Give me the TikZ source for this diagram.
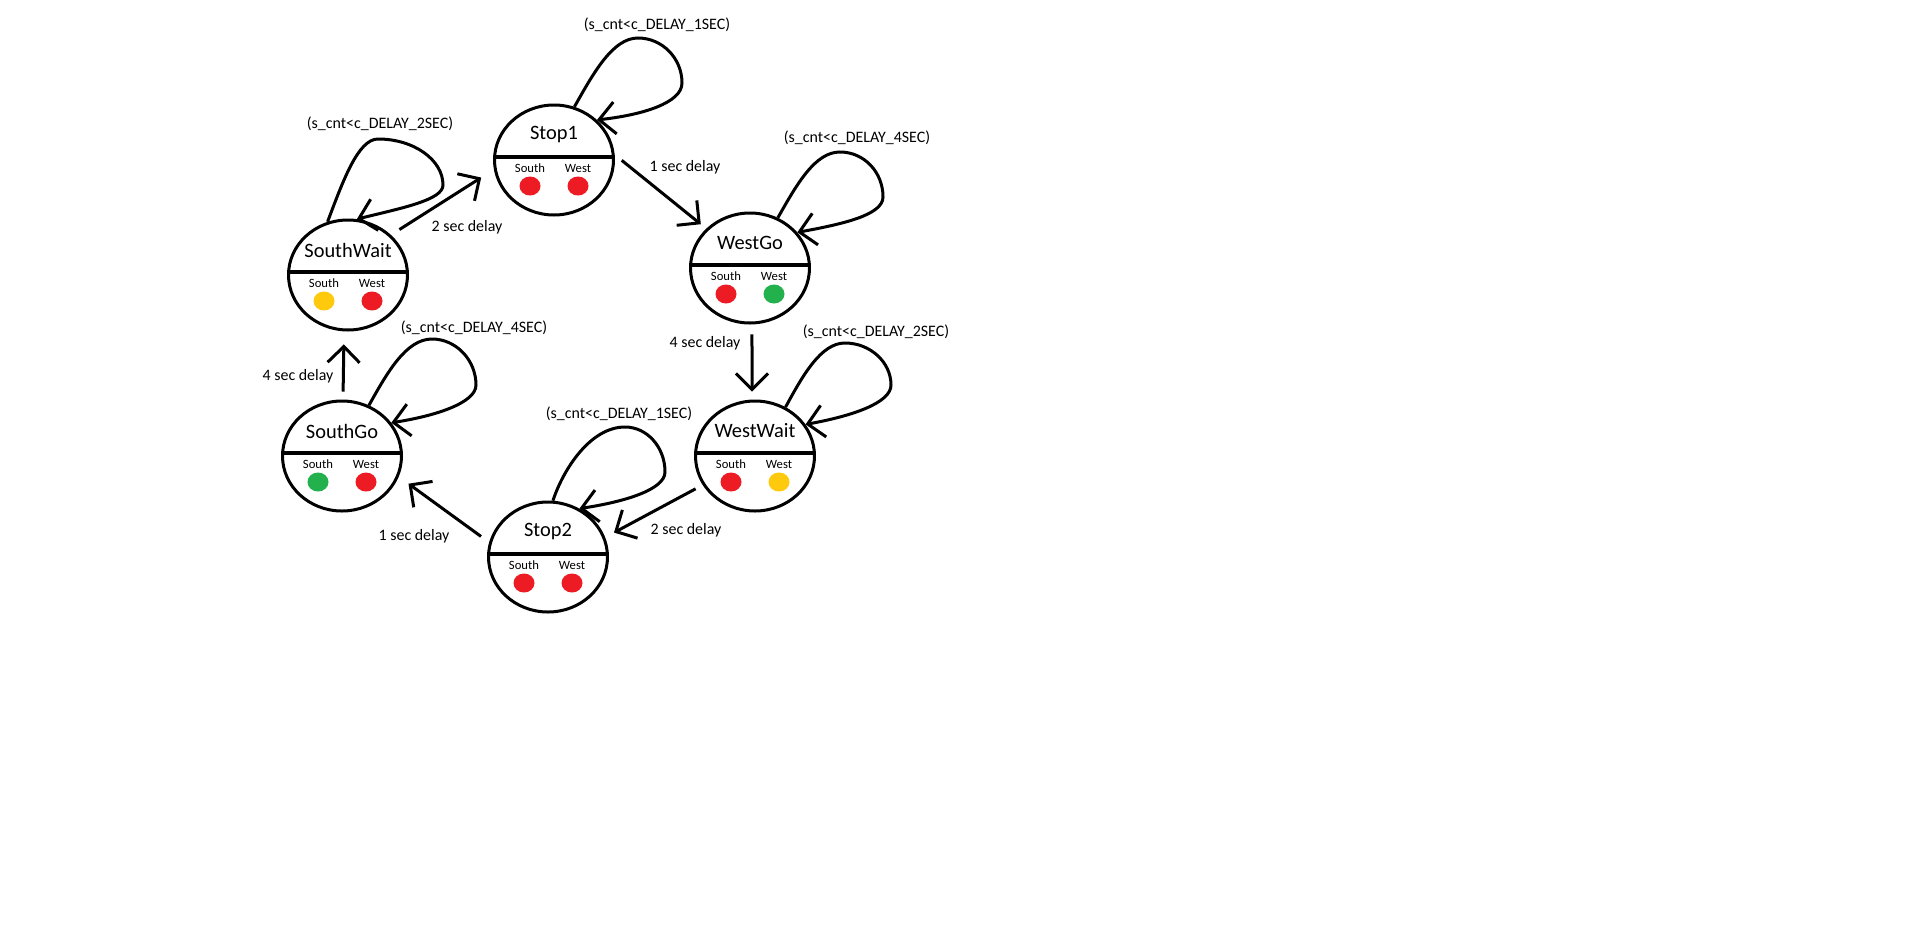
\documentclass[tikz,border=0pt]{standalone}
\usepackage{fontspec}
\setmainfont{Carlito}
\usetikzlibrary{shapes.geometric,arrows.meta}
\definecolor{lampred}{HTML}{ED1C24}
\definecolor{lampgreen}{HTML}{22B14C}
\definecolor{lampyellow}{HTML}{FFC90E}

\begin{document}
\begin{tikzpicture}[x=1bp, y=-1bp,
    state/.style={draw, ellipse, line width=3bp, minimum width=119bp, minimum height=110bp, inner sep=0pt},
    divider/.style={line width=3.5bp},
    statename/.style={font=\fontsize{20.5}{24}\selectfont, inner sep=0pt},
    lamplabel/.style={font=\fontsize{12.7}{15}\selectfont, inner sep=0pt},
    lamp/.style={ellipse, minimum width=21bp, minimum height=19bp, inner sep=0pt},
    cond/.style={font=\fontsize{16}{19}\selectfont, inner sep=0pt},
    delay/.style={font=\fontsize{16}{19}\selectfont, inner sep=0pt},
    arr/.style={line width=3bp, -{Straight Barb[length=16bp, width=32bp]}}]
    \fill[white] (0,0) rectangle (1914,935);

    % states
    \node[state] (stopa) at (554,160) {};
    \draw[divider] ([yshift=3bp]stopa.west) -- ([yshift=3bp]stopa.east);
    \node[statename] (stopa-name) at ([yshift=25bp]stopa.center) {Stop1};
    \node[lamplabel] (stopa-sl) at ([shift={(-24bp,-8bp)}]stopa.center) {South};
    \node[lamplabel] (stopa-wl) at ([shift={(24bp,-8bp)}]stopa.center) {West};
    \node[lamp, fill=lampred] (stopa-s) at ([shift={(-24bp,-26bp)}]stopa.center) {};
    \node[lamp, fill=lampred] (stopa-w) at ([shift={(24bp,-26bp)}]stopa.center) {};

    \node[state] (westgo) at (750,268) {};
    \draw[divider] ([yshift=3bp]westgo.west) -- ([yshift=3bp]westgo.east);
    \node[statename] (westgo-name) at ([yshift=25bp]westgo.center) {WestGo};
    \node[lamplabel] (westgo-sl) at ([shift={(-24bp,-8bp)}]westgo.center) {South};
    \node[lamplabel] (westgo-wl) at ([shift={(24bp,-8bp)}]westgo.center) {West};
    \node[lamp, fill=lampred] (westgo-s) at ([shift={(-24bp,-26bp)}]westgo.center) {};
    \node[lamp, fill=lampgreen] (westgo-w) at ([shift={(24bp,-26bp)}]westgo.center) {};

    \node[state] (westwait) at (755,456) {};
    \draw[divider] ([yshift=3bp]westwait.west) -- ([yshift=3bp]westwait.east);
    \node[statename] (westwait-name) at ([yshift=25bp]westwait.center) {WestWait};
    \node[lamplabel] (westwait-sl) at ([shift={(-24bp,-8bp)}]westwait.center) {South};
    \node[lamplabel] (westwait-wl) at ([shift={(24bp,-8bp)}]westwait.center) {West};
    \node[lamp, fill=lampred] (westwait-s) at ([shift={(-24bp,-26bp)}]westwait.center) {};
    \node[lamp, fill=lampyellow] (westwait-w) at ([shift={(24bp,-26bp)}]westwait.center) {};

    \node[state] (stopb) at (548,557) {};
    \draw[divider] ([yshift=3bp]stopb.west) -- ([yshift=3bp]stopb.east);
    \node[statename] (stopb-name) at ([yshift=25bp]stopb.center) {Stop2};
    \node[lamplabel] (stopb-sl) at ([shift={(-24bp,-8bp)}]stopb.center) {South};
    \node[lamplabel] (stopb-wl) at ([shift={(24bp,-8bp)}]stopb.center) {West};
    \node[lamp, fill=lampred] (stopb-s) at ([shift={(-24bp,-26bp)}]stopb.center) {};
    \node[lamp, fill=lampred] (stopb-w) at ([shift={(24bp,-26bp)}]stopb.center) {};

    \node[state] (southgo) at (342,456) {};
    \draw[divider] ([yshift=3bp]southgo.west) -- ([yshift=3bp]southgo.east);
    \node[statename] (southgo-name) at ([yshift=25bp]southgo.center) {SouthGo};
    \node[lamplabel] (southgo-sl) at ([shift={(-24bp,-8bp)}]southgo.center) {South};
    \node[lamplabel] (southgo-wl) at ([shift={(24bp,-8bp)}]southgo.center) {West};
    \node[lamp, fill=lampgreen] (southgo-s) at ([shift={(-24bp,-26bp)}]southgo.center) {};
    \node[lamp, fill=lampred] (southgo-w) at ([shift={(24bp,-26bp)}]southgo.center) {};

    \node[state] (southwait) at (348,275) {};
    \draw[divider] ([yshift=3bp]southwait.west) -- ([yshift=3bp]southwait.east);
    \node[statename] (southwait-name) at ([yshift=25bp]southwait.center) {SouthWait};
    \node[lamplabel] (southwait-sl) at ([shift={(-24bp,-8bp)}]southwait.center) {South};
    \node[lamplabel] (southwait-wl) at ([shift={(24bp,-8bp)}]southwait.center) {West};
    \node[lamp, fill=lampyellow] (southwait-s) at ([shift={(-24bp,-26bp)}]southwait.center) {};
    \node[lamp, fill=lampred] (southwait-w) at ([shift={(24bp,-26bp)}]southwait.center) {};

    % self loops
    \draw[arr] (stopa.69) .. controls (594,72) and (613,38) .. (638,38)
        .. controls (662,38) and (682,58) .. (682,83)
        .. controls (682,103) and (642,115) .. (stopa.43);
    \draw[arr] (westgo.61) .. controls (797,184) and (815,152) .. (840,152)
        .. controls (864,152) and (883,172) .. (883,197)
        .. controls (883,215) and (843,224) .. (westgo.37);
    \draw[arr] (westwait.58) .. controls (803,375) and (821,343) .. (845,343)
        .. controls (870,343) and (891,362) .. (891,385)
        .. controls (891,403) and (852,416) .. (westwait.32);
    \draw[arr] (stopb.85) .. controls (563,470) and (590,427) .. (625,427)
        .. controls (647,427) and (665,447) .. (665,472)
        .. controls (665,490) and (623,502) .. (stopb.57);
    \draw[arr] (southgo.62) .. controls (387,373) and (406,339) .. (432,339)
        .. controls (456,339) and (476,360) .. (476,385)
        .. controls (476,403) and (435,416) .. (southgo.34);
    \draw[arr] (southwait.111) .. controls (343,181) and (358,139) .. (378,139)
        .. controls (414,139) and (443,160) .. (443,185)
        .. controls (443,200) and (402,208) .. (southwait.81);

    \node[cond] (cond-stopa) at (657,25) {(s\_cnt<c\_DELAY\_1SEC)};
    \node[cond] (cond-westgo) at (857,138) {(s\_cnt<c\_DELAY\_4SEC)};
    \node[cond] (cond-westwait) at (876,332) {(s\_cnt<c\_DELAY\_2SEC)};
    \node[cond] (cond-stopb) at (619,414) {(s\_cnt<c\_DELAY\_1SEC)};
    \node[cond] (cond-southgo) at (474,328) {(s\_cnt<c\_DELAY\_4SEC)};
    \node[cond] (cond-southwait) at (380,124) {(s\_cnt<c\_DELAY\_2SEC)};

    % transitions
    \draw[arr, shorten <=10bp, shorten >=15bp] (southwait.43) -- (stopa.189);
    \draw[arr, shorten <=9bp, shorten >=7bp] (stopa.5) -- (westgo.138);
    \draw[arr, shorten <=10bp, shorten >=8bp] (westgo.-88) -- (westwait.93);
    \draw[arr, shorten <=8bp, shorten >=10bp] (westwait.209) -- (stopb.19);
    \draw[arr, shorten <=10bp, shorten >=12bp] (stopb.166) -- (southgo.-20);
    \draw[arr, shorten <=8bp, shorten >=13bp] (southgo.89) -- (southwait.-94);

    \node[delay] (d-sw-sa) at (467,227) {2 sec delay};
    \node[delay] (d-sa-wg) at (685,167) {1 sec delay};
    \node[delay] (d-wg-ww) at (705,343) {4 sec delay};
    \node[delay] (d-ww-sb) at (686,530) {2 sec delay};
    \node[delay] (d-sb-sg) at (414,536) {1 sec delay};
    \node[delay] (d-sg-sw) at (298,376) {4 sec delay};
\end{tikzpicture}
\end{document}
